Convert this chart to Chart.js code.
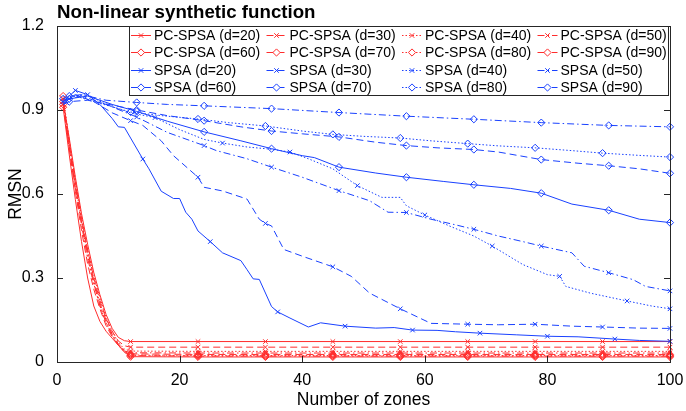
<!DOCTYPE html>
<html>
<head>
<meta charset="utf-8">
<title>Non-linear synthetic function</title>
<script src="https://cdn.jsdelivr.net/npm/chart.js@4.4.1/dist/chart.umd.min.js"></script>
<style>
    html, body { margin: 0; padding: 0; background: #fff; }
    #chart { display: block; }
</style>
</head>
<body>
<canvas id="chart" width="686" height="411"></canvas>
<script>
// --- data ---
const xTicks = [0, 20, 40, 60, 80, 100];
const xTickLabels = ['0', '20', '40', '60', '80', '100'];
const yTicks = [0, 0.3, 0.6, 0.9, 1.2];
const yTickLabels = ['0', '0.3', '0.6', '0.9', '1.2'];

// PC-SPSA: all share the same zone positions and marker positions
const pcX = [1, 2, 3, 4, 5, 6, 7, 8, 9, 10, 11, 12, 23, 34, 45, 56, 67, 78, 89, 100];
const pcMarkers = [1, 12, 23, 34, 45, 56, 67, 78, 89, 100];
const pc20 = [0.93, 0.80, 0.66, 0.53, 0.42, 0.32, 0.24, 0.17, 0.12, 0.088, 0.076, 0.073, 0.073, 0.073, 0.073, 0.073, 0.073, 0.073, 0.073, 0.073];
const pc30 = [0.92, 0.78, 0.64, 0.51, 0.40, 0.30, 0.22, 0.155, 0.11, 0.075, 0.058, 0.053, 0.053, 0.053, 0.053, 0.053, 0.053, 0.053, 0.053, 0.053];
const pc40 = [0.94, 0.79, 0.65, 0.52, 0.40, 0.31, 0.23, 0.16, 0.11, 0.07, 0.046, 0.039, 0.038, 0.038, 0.038, 0.038, 0.038, 0.038, 0.038, 0.038];
const pc50 = [0.93, 0.77, 0.62, 0.49, 0.37, 0.28, 0.20, 0.14, 0.095, 0.06, 0.04, 0.033, 0.032, 0.032, 0.032, 0.032, 0.032, 0.032, 0.032, 0.032];
const pc60 = [0.91, 0.74, 0.58, 0.43, 0.30, 0.20, 0.145, 0.11, 0.085, 0.06, 0.035, 0.019, 0.018, 0.018, 0.018, 0.018, 0.018, 0.018, 0.018, 0.018];
const pc70 = [0.92, 0.76, 0.61, 0.47, 0.35, 0.26, 0.19, 0.13, 0.09, 0.06, 0.04, 0.029, 0.027, 0.027, 0.027, 0.027, 0.027, 0.027, 0.027, 0.027];
const pc80 = [0.95, 0.79, 0.64, 0.50, 0.38, 0.28, 0.20, 0.14, 0.095, 0.06, 0.035, 0.025, 0.023, 0.023, 0.023, 0.023, 0.023, 0.023, 0.023, 0.023];
const pc90 = [0.93, 0.77, 0.63, 0.50, 0.39, 0.29, 0.21, 0.15, 0.10, 0.065, 0.04, 0.023, 0.021, 0.021, 0.021, 0.021, 0.021, 0.021, 0.021, 0.021];

// SPSA: each curve has its own sampled points and marker positions
const spsa20X = [1, 2, 3, 5, 7, 9, 10, 11, 14, 15, 17, 19, 20, 21, 22, 23, 25, 27, 30, 31, 32, 33, 35, 36, 38, 41, 43, 47, 52, 55, 58, 62, 65, 69, 75, 80, 85, 91, 95, 100];
const spsa20 = [0.93, 0.95, 0.97, 0.955, 0.92, 0.87, 0.84, 0.838, 0.725, 0.69, 0.61, 0.584, 0.584, 0.535, 0.51, 0.468, 0.43, 0.39, 0.362, 0.33, 0.297, 0.295, 0.198, 0.179, 0.157, 0.125, 0.14, 0.128, 0.121, 0.123, 0.114, 0.113, 0.108, 0.103, 0.097, 0.092, 0.09, 0.082, 0.077, 0.074];
const spsa20Markers = [3, 14, 25, 36, 47, 58, 69, 80, 91, 100];

const spsa30X = [1, 3, 6, 9, 12, 14, 17, 19, 23, 24, 27, 31, 33, 34, 35, 37, 40, 45, 48, 51, 56, 61, 67, 72, 78, 84, 89, 95, 100];
const spsa30 = [0.93, 0.955, 0.93, 0.89, 0.862, 0.845, 0.79, 0.737, 0.66, 0.624, 0.611, 0.582, 0.51, 0.495, 0.486, 0.402, 0.378, 0.34, 0.306, 0.246, 0.19, 0.138, 0.135, 0.133, 0.135, 0.128, 0.125, 0.121, 0.12];
const spsa30Markers = [1, 12, 23, 34, 45, 56, 67, 78, 89, 100];

const spsa40X = [1, 3, 5, 8, 12, 16, 20, 24, 27, 31, 35, 38, 41, 45, 49, 53, 56, 57, 60, 64, 68, 71, 76, 80, 82, 83, 87, 93, 97, 100];
const spsa40 = [0.94, 0.95, 0.955, 0.92, 0.89, 0.873, 0.83, 0.795, 0.782, 0.768, 0.76, 0.75, 0.726, 0.69, 0.63, 0.588, 0.588, 0.558, 0.525, 0.486, 0.45, 0.414, 0.348, 0.312, 0.306, 0.27, 0.246, 0.218, 0.2, 0.19];
const spsa40Markers = [5, 16, 27, 38, 49, 60, 71, 82, 93, 100];

const spsa50X = [1, 2, 4, 8, 13, 18, 24, 26, 31, 35, 40, 46, 51, 54, 57, 61, 65, 68, 72, 76, 79, 84, 86, 90, 94, 96, 100];
const spsa50 = [0.92, 0.94, 0.95, 0.92, 0.875, 0.82, 0.773, 0.755, 0.726, 0.696, 0.66, 0.612, 0.576, 0.535, 0.534, 0.51, 0.49, 0.474, 0.45, 0.43, 0.414, 0.39, 0.342, 0.319, 0.294, 0.27, 0.254];
const spsa50Markers = [2, 13, 24, 35, 46, 57, 68, 79, 90, 100];

const spsa60X = [1, 2, 5, 9, 13, 18, 24, 30, 35, 40, 42, 46, 52, 57, 63, 68, 74, 79, 84, 90, 95, 100];
const spsa60 = [0.92, 0.94, 0.95, 0.92, 0.895, 0.86, 0.822, 0.79, 0.762, 0.737, 0.73, 0.696, 0.675, 0.66, 0.645, 0.633, 0.62, 0.603, 0.564, 0.542, 0.51, 0.498];
const spsa60Markers = [2, 13, 24, 35, 46, 57, 68, 79, 90, 100];

const spsa70X = [1, 2, 5, 13, 18, 24, 30, 35, 40, 46, 52, 57, 62, 68, 72, 79, 85, 90, 95, 100];
const spsa70 = [0.92, 0.93, 0.935, 0.90, 0.88, 0.862, 0.84, 0.825, 0.815, 0.804, 0.785, 0.773, 0.765, 0.759, 0.75, 0.723, 0.71, 0.701, 0.69, 0.674];
const spsa70Markers = [2, 13, 24, 35, 46, 57, 68, 79, 90, 100];

const spsa80X = [1, 3, 6, 12, 17, 23, 28, 34, 40, 45, 50, 56, 61, 67, 72, 78, 84, 89, 95, 100];
const spsa80 = [0.94, 0.95, 0.93, 0.893, 0.88, 0.868, 0.855, 0.843, 0.825, 0.813, 0.806, 0.80, 0.79, 0.78, 0.772, 0.765, 0.755, 0.746, 0.738, 0.732];
const spsa80Markers = [1, 12, 23, 34, 45, 56, 67, 78, 89, 100];

const spsa90X = [1, 2, 4, 8, 13, 18, 24, 35, 46, 57, 68, 79, 90, 100];
const spsa90 = [0.93, 0.95, 0.955, 0.935, 0.927, 0.92, 0.915, 0.905, 0.891, 0.878, 0.867, 0.855, 0.845, 0.84];
const spsa90Markers = [2, 13, 24, 35, 46, 57, 68, 79, 90, 100];

// --- styles ---
const RED = 'rgb(255,45,45)';
const BLUE = 'rgb(25,65,255)';
const AXIS = '#262626';
const FONT = "'Liberation Sans', Arial, Helvetica, sans-serif";
const dashes = {
    solid: [],
    dashed: [7, 4],
    dotted: [1.5, 2],
    dashdot: [7, 3, 1.5, 3]
};

// label, xs, ys, markers, colour, line style, marker style
const series = [
    ['PC-SPSA (d=20)', pcX, pc20, pcMarkers, RED, 'solid', 'crossRot'],
    ['PC-SPSA (d=30)', pcX, pc30, pcMarkers, RED, 'dashed', 'crossRot'],
    ['PC-SPSA (d=40)', pcX, pc40, pcMarkers, RED, 'dotted', 'crossRot'],
    ['PC-SPSA (d=50)', pcX, pc50, pcMarkers, RED, 'dashdot', 'crossRot'],
    ['PC-SPSA (d=60)', pcX, pc60, pcMarkers, RED, 'solid', 'rectRot'],
    ['PC-SPSA (d=70)', pcX, pc70, pcMarkers, RED, 'dashed', 'rectRot'],
    ['PC-SPSA (d=80)', pcX, pc80, pcMarkers, RED, 'dotted', 'rectRot'],
    ['PC-SPSA (d=90)', pcX, pc90, pcMarkers, RED, 'dashdot', 'rectRot'],
    ['SPSA (d=20)', spsa20X, spsa20, spsa20Markers, BLUE, 'solid', 'crossRot'],
    ['SPSA (d=30)', spsa30X, spsa30, spsa30Markers, BLUE, 'dashed', 'crossRot'],
    ['SPSA (d=40)', spsa40X, spsa40, spsa40Markers, BLUE, 'dotted', 'crossRot'],
    ['SPSA (d=50)', spsa50X, spsa50, spsa50Markers, BLUE, 'dashdot', 'crossRot'],
    ['SPSA (d=60)', spsa60X, spsa60, spsa60Markers, BLUE, 'solid', 'rectRot'],
    ['SPSA (d=70)', spsa70X, spsa70, spsa70Markers, BLUE, 'dashed', 'rectRot'],
    ['SPSA (d=80)', spsa80X, spsa80, spsa80Markers, BLUE, 'dotted', 'rectRot'],
    ['SPSA (d=90)', spsa90X, spsa90, spsa90Markers, BLUE, 'dashdot', 'rectRot']
];

function markerRadius(style) {
    return style === 'rectRot' ? 3.6 : 3.2;
}

const datasets = series.map(function (s, i) {
    const [label, xs, ys, markers, color, line, marker] = s;
    return {
        label: label,
        data: xs.map((x, k) => ({ x: x, y: ys[k] })),
        borderColor: color,
        borderWidth: 1,
        borderDash: dashes[line],
        pointStyle: marker,
        pointBorderColor: color,
        pointBackgroundColor: 'rgba(255,255,255,0)',
        pointBorderWidth: 1,
        pointRadius: ctx => (ctx.raw && markers.includes(ctx.raw.x)) ? markerRadius(marker) : 0,
        tension: 0,
        fill: false,
        clip: false,
        order: series.length - i
    };
});

// box round the axes with inward ticks, like the original figure
const framePlugin = {
    id: 'frame',
    afterDatasetsDraw(chart) {
        const { ctx, chartArea: a, scales } = chart;
        const len = 6;
        ctx.save();
        ctx.strokeStyle = AXIS;
        ctx.lineWidth = 1;
        ctx.setLineDash([]);
        ctx.beginPath();
        xTicks.forEach(function (v) {
            const px = Math.round(scales.x.getPixelForValue(v)) + 0.5;
            ctx.moveTo(px, a.bottom); ctx.lineTo(px, a.bottom - len);
            ctx.moveTo(px, a.top); ctx.lineTo(px, a.top + len);
        });
        yTicks.forEach(function (v) {
            const py = Math.round(scales.y.getPixelForValue(v)) + 0.5;
            ctx.moveTo(a.left, py); ctx.lineTo(a.left + len, py);
            ctx.moveTo(a.right, py); ctx.lineTo(a.right - len, py);
        });
        ctx.stroke();
        ctx.strokeRect(Math.round(a.left) + 0.5, Math.round(a.top) + 0.5,
            Math.round(a.right - a.left), Math.round(a.bottom - a.top));
        ctx.restore();
    }
};

// 4 x 4 boxed legend in the top right corner of the axes
const legendPlugin = {
    id: 'boxLegend',
    afterDraw(chart) {
        const { ctx, chartArea: a } = chart;
        const left = a.left + 72, right = a.right - 2, top = a.top, bottom = a.top + 69;
        const textX = [97, 232.5, 368, 503.5];
        const rowH = 17.3;
        ctx.save();
        ctx.fillStyle = '#fff';
        ctx.fillRect(left, top, right - left, bottom - top);
        ctx.strokeStyle = AXIS;
        ctx.lineWidth = 1;
        ctx.strokeRect(Math.round(left) + 0.5, Math.round(top) + 0.5, Math.round(right - left), Math.round(bottom - top));
        ctx.font = '14px ' + FONT;
        ctx.textBaseline = 'middle';
        ctx.textAlign = 'left';
        chart.data.datasets.forEach(function (ds, i) {
            const tx = a.left + textX[i % 4];
            const y = Math.round(top + 9 + Math.floor(i / 4) * rowH) + 0.5;
            ctx.strokeStyle = ds.borderColor;
            ctx.lineWidth = 1;
            ctx.setLineDash(ds.borderDash);
            ctx.beginPath();
            ctx.moveTo(tx - 23, y);
            ctx.lineTo(tx - 3, y);
            ctx.stroke();
            ctx.setLineDash([]);
            ctx.fillStyle = '#fff';
            Chart.helpers.drawPoint(ctx, {
                pointStyle: ds.pointStyle,
                radius: markerRadius(ds.pointStyle),
                borderWidth: 1,
                rotation: 0
            }, tx - 13, y);
            ctx.fillStyle = '#000';
            ctx.fillText(ds.label, tx, y + 0.5);
        });
        ctx.restore();
    }
};

new Chart(document.getElementById('chart'), {
    type: 'line',
    data: { datasets: datasets },
    options: {
        responsive: false,
        animation: false,
        events: [],
        layout: { padding: { left: 0, right: 16, top: 0, bottom: 0 } },
        scales: {
            x: {
                type: 'linear',
                min: 0,
                max: 100,
                afterBuildTicks: scale => { scale.ticks = xTicks.map(v => ({ value: v })); },
                afterFit: scale => { scale.height = 49; },
                grid: { display: false },
                border: { display: false },
                ticks: {
                    padding: 1,
                    color: '#000',
                    font: { family: FONT, size: 16 },
                    maxRotation: 0,
                    callback: (v, i) => xTickLabels[i]
                },
                title: {
                    display: true,
                    text: 'Number of zones',
                    color: '#000',
                    font: { family: FONT, size: 17.5 },
                    padding: { top: 0, bottom: 0.5 }
                }
            },
            y: {
                type: 'linear',
                min: 0,
                max: 1.2,
                afterBuildTicks: scale => { scale.ticks = yTicks.map(v => ({ value: v })); },
                afterFit: scale => { scale.width = 57; },
                grid: { display: false },
                border: { display: false },
                ticks: {
                    padding: 5,
                    color: '#000',
                    font: { family: FONT, size: 16 },
                    callback: (v, i) => yTickLabels[i]
                },
                title: {
                    display: true,
                    text: 'RMSN',
                    color: '#000',
                    font: { family: FONT, size: 17.5 },
                    padding: { top: 6, bottom: 0 }
                }
            }
        },
        plugins: {
            legend: { display: false },
            tooltip: { enabled: false },
            title: {
                display: true,
                text: 'Non-linear synthetic function',
                align: 'start',
                fullSize: false,
                color: '#000',
                font: { family: FONT, size: 18.7, weight: 'bold' },
                padding: { top: 1.5, bottom: 2.1 }
            }
        }
    },
    plugins: [framePlugin, legendPlugin]
});
</script>
</body>
</html>
